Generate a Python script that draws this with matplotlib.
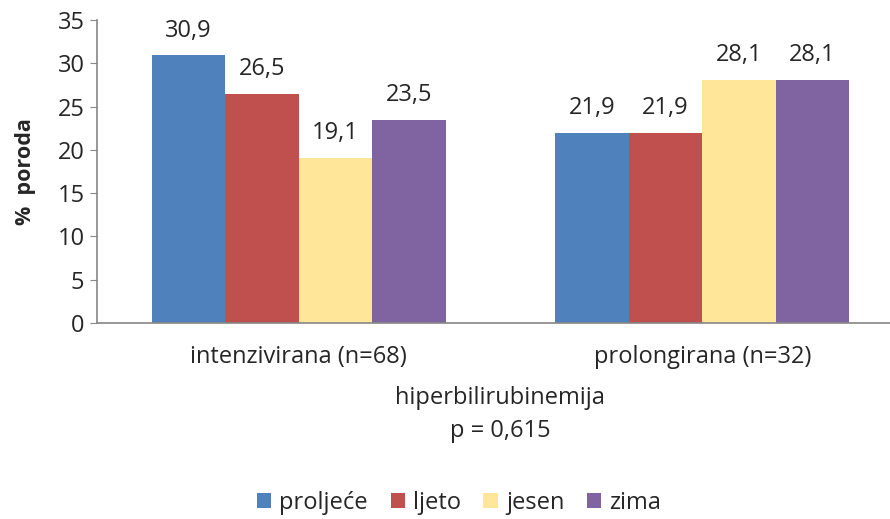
import matplotlib
matplotlib.use("Agg")
import matplotlib.pyplot as plt
import numpy as np

categories = ["intenzivirana (n=68)", "prolongirana (n=32)"]
series_names = ["proljeće", "ljeto", "jesen", "zima"]
proljece = [30.9, 21.9]
ljeto = [26.5, 21.9]
jesen = [19.1, 28.1]
zima = [23.5, 28.1]
values = [proljece, ljeto, jesen, zima]
colors = ["#4F81BD", "#C0504D", "#FFE699", "#8064A2"]

plt.rcParams['font.family'] = ['Open Sans', 'DejaVu Sans']
txtc = "#262626"

fig = plt.figure(figsize=(8.9, 5.19), dpi=100)
ax = fig.add_axes([97/890, 1-323/519, 1-97/890, (323-20)/519])

x = np.arange(len(categories))
w = 0.182
for i, (name, vals, c) in enumerate(zip(series_names, values, colors)):
    pos = x + (i - 1.5) * w
    ax.bar(pos, vals, width=w, color=c, label=name, zorder=2)
    for p, v in zip(pos, vals):
        ax.text(p, v + 1.5, f"{v:.1f}".replace(".", ","), ha="center", va="bottom",
                fontsize=17, color=txtc)

ax.set_xlim(-0.5, 1.465)
ax.set_ylim(0, 35)
ax.set_yticks(range(0, 36, 5))
ax.set_xticks(x)
ax.set_xticklabels(categories, fontsize=17)
ax.tick_params(axis='x', length=0, pad=16, colors=txtc)
ax.tick_params(axis='y', length=5, direction='out', labelsize=17, colors="#868686", labelcolor=txtc, pad=4)
for s in ["top", "right"]:
    ax.spines[s].set_visible(False)
for s in ["left", "bottom"]:
    ax.spines[s].set_color("#868686")
    ax.spines[s].set_linewidth(1.2)

fig.text(26/890, 1-172/519, "%  poroda", rotation=90, ha="center", va="center",
         fontsize=15.5, fontweight="bold", color=txtc)
fig.text(500/890, 1-398/519, "hiperbilirubinemija", ha="center", va="center", fontsize=17, color=txtc)
fig.text(500/890, 1-431/519, "p = 0,615", ha="center", va="center", fontsize=17, color=txtc)

leg = fig.legend(loc="center", bbox_to_anchor=(459/890, 1-503/519), ncol=4, frameon=False,
                 fontsize=17, handlelength=0.6, handleheight=0.6, handletextpad=0.35,
                 columnspacing=0.95, labelcolor=txtc)

fig.savefig("out.png", dpi=100)
